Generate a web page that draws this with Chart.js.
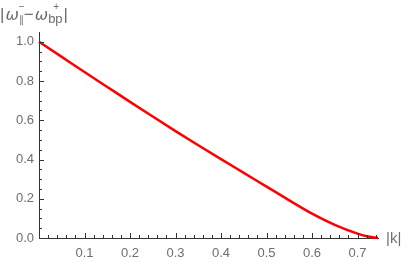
<!DOCTYPE html>
<html>
<head>
<meta charset="utf-8">
<script src="https://cdn.jsdelivr.net/npm/chart.js@4/dist/chart.umd.min.js"></script>
<style>
  html, body { margin: 0; padding: 0; background: #fff; }
  #wrap { width: 409px; height: 262px; }
</style>
</head>
<body>
<div id="wrap"><canvas id="freqChart"></canvas></div>
<script>
// Curve |w_par^- - w_bp^+| against |k|
const kValues = [0, 0.05, 0.1, 0.15, 0.2, 0.25, 0.3, 0.35, 0.4, 0.45, 0.5, 0.55, 0.6, 0.65, 0.7, 0.72, 0.745];
const omegaDiff = [1.0, 0.923, 0.846, 0.770, 0.694, 0.619, 0.545, 0.473, 0.402, 0.332, 0.262, 0.192, 0.124, 0.067, 0.022, 0.009, 0.0];

// tick positions
const xMajorTicks = [0.1, 0.2, 0.3, 0.4, 0.5, 0.6, 0.7];
const xMinorTicks = [0.02, 0.04, 0.06, 0.08, 0.12, 0.14, 0.16, 0.18, 0.22, 0.24, 0.26, 0.28,
    0.32, 0.34, 0.36, 0.38, 0.42, 0.44, 0.46, 0.48, 0.52, 0.54, 0.56, 0.58,
    0.62, 0.64, 0.66, 0.68, 0.72, 0.74];
const yMajorTicks = [0, 0.2, 0.4, 0.6, 0.8, 1.0];
const yMinorTicks = [0.05, 0.1, 0.15, 0.25, 0.3, 0.35, 0.45, 0.5, 0.55, 0.65, 0.7, 0.75, 0.85, 0.9, 0.95];

const axisColor = "#333";
const labelColor = "#6e6e6e";

// Mathematica-style inward tick marks + axis labels
const axisDecor = {
    id: "axisDecor",
    afterDraw(chart) {
        const ctx = chart.ctx;
        const xs = chart.scales.x;
        const ys = chart.scales.y;
        const x0 = xs.getPixelForValue(0);
        const y0 = ys.getPixelForValue(0);

        ctx.save();
        ctx.strokeStyle = axisColor;
        ctx.lineWidth = 1;
        ctx.beginPath();
        xMajorTicks.forEach((v) => {
            const px = Math.round(xs.getPixelForValue(v)) + 0.5;
            ctx.moveTo(px, y0); ctx.lineTo(px, y0 - 5);
        });
        xMinorTicks.forEach((v) => {
            const px = Math.round(xs.getPixelForValue(v)) + 0.5;
            ctx.moveTo(px, y0); ctx.lineTo(px, y0 - 3);
        });
        yMajorTicks.forEach((v) => {
            const py = Math.round(ys.getPixelForValue(v)) + 0.5;
            ctx.moveTo(x0, py); ctx.lineTo(x0 + 5, py);
        });
        yMinorTicks.forEach((v) => {
            const py = Math.round(ys.getPixelForValue(v)) + 0.5;
            ctx.moveTo(x0, py); ctx.lineTo(x0 + 3, py);
        });
        ctx.stroke();

        // x axis label
        ctx.fillStyle = labelColor;
        ctx.font = "15px 'Liberation Sans', Arial, sans-serif";
        ctx.textBaseline = "alphabetic";
        ctx.textAlign = "left";
        ctx.fillText("|k|", xs.right + 8, y0 + 5);

        // y axis label: |ω∥⁻ − ωbp⁺|
        const base = 20;
        let x = 0;
        const put = (txt, font, dy) => {
            ctx.font = font;
            ctx.fillText(txt, x, base + dy);
            return ctx.measureText(txt).width;
        };
        const main = "17px 'Liberation Sans', Arial, sans-serif";
        const ital = "italic 16px 'DejaVu Sans', sans-serif";
        const small = "13px 'Liberation Sans', Arial, sans-serif";
        const tiny = "10px 'Liberation Sans', Arial, sans-serif";
        x += put("|", main, 0) + 1;
        x += put("ω", ital, 0);
        const sx = x;
        put("∥", tiny, 3);
        x = sx;
        put("−", tiny, -10);
        x = sx + 5;
        x += put("−", main, 0) + 1;
        x += put("ω", ital, 0);
        const sx2 = x;
        const wbp = put("bp", small, 3);
        x = sx2 + 5;
        put("+", tiny, -10);
        x = sx2 + wbp + 1;
        put("|", main, 0);
        ctx.restore();
    },
};

function buildChart() {
    const ctx = document.getElementById("freqChart").getContext("2d");
    const points = kValues.map((k, i) => ({ x: k, y: omegaDiff[i] }));

    new Chart(ctx, {
        type: "scatter",
        data: {
            datasets: [
                {
                    data: points,
                    showLine: true,
                    borderColor: "#ff0000",
                    borderWidth: 2.5,
                    pointRadius: 0,
                    cubicInterpolationMode: "monotone",
                    clip: false,
                },
            ],
        },
        options: {
            responsive: true,
            maintainAspectRatio: false,
            animation: false,
            layout: { padding: { top: 32, right: 31, left: 0, bottom: 0 } },
            plugins: { legend: { display: false }, tooltip: { enabled: false } },
            scales: {
                x: {
                    type: "linear",
                    min: 0,
                    max: 0.745,
                    afterBuildTicks: (scale) => {
                        scale.ticks = xMajorTicks.map((v) => ({ value: v }));
                    },
                    afterFit: (scale) => { scale.height = 24; },
                    grid: { display: false, drawTicks: false },
                    border: { display: true, color: axisColor, width: 1 },
                    ticks: {
                        color: labelColor,
                        padding: 8,
                        maxRotation: 0,
                        font: { family: "'Liberation Sans', Arial, sans-serif", size: 13 },
                        callback: (v) => v.toFixed(1),
                    },
                },
                y: {
                    type: "linear",
                    min: 0,
                    max: 1.05,
                    afterBuildTicks: (scale) => {
                        scale.ticks = yMajorTicks.map((v) => ({ value: v }));
                    },
                    afterFit: (scale) => { scale.width = 39; },
                    grid: { display: false, drawTicks: false },
                    border: { display: true, color: axisColor, width: 1 },
                    ticks: {
                        color: labelColor,
                        padding: 5,
                        font: { family: "'Liberation Sans', Arial, sans-serif", size: 13 },
                        callback: (v) => v.toFixed(1),
                    },
                },
            },
        },
        plugins: [axisDecor],
    });
}

document.addEventListener("DOMContentLoaded", buildChart);
</script>
</body>
</html>
